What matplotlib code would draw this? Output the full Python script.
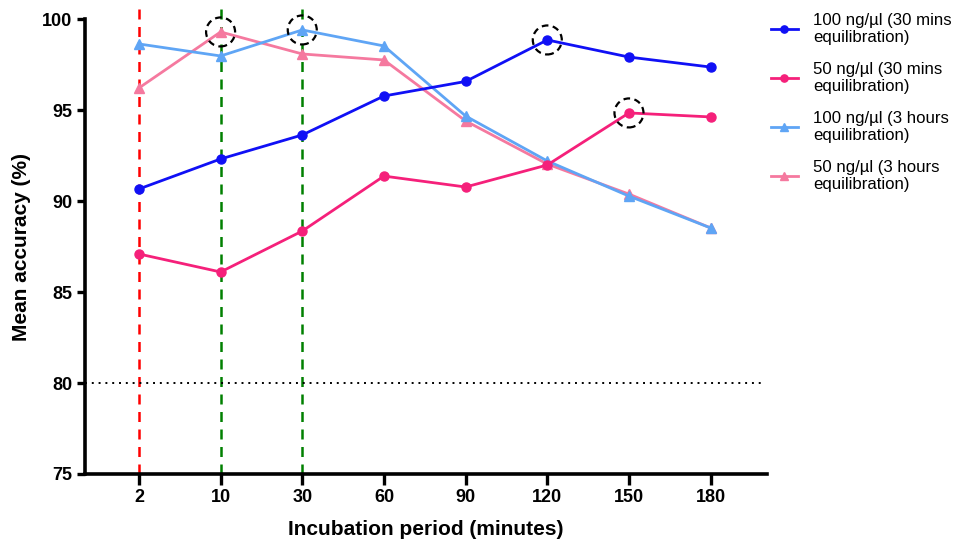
import matplotlib
matplotlib.use("Agg")
import matplotlib.pyplot as plt
from matplotlib.patches import Ellipse

plt.rcParams['font.family'] = ['Liberation Sans', 'DejaVu Sans']

incubation = ['2', '10', '30', '60', '90', '120', '150', '180']
acc_100_30m = [90.66, 92.31, 93.63, 95.77, 96.57, 98.85, 97.91, 97.36]
acc_50_30m = [87.09, 86.10, 88.35, 91.37, 90.77, 91.98, 94.84, 94.62]
acc_100_3h = [98.63, 97.97, 99.40, 98.52, 94.67, 92.20, 90.27, 88.52]
acc_50_3h = [96.21, 99.29, 98.08, 97.75, 94.40, 92.03, 90.38, 88.52]

labels = ['100 ng/µl (30 mins\nequilibration)',
          '50 ng/µl (30 mins\nequilibration)',
          '100 ng/µl (3 hours\nequilibration)',
          '50 ng/µl (3 hours\nequilibration)']
colors = ['#1010f5', '#f5207a', '#5fa5f5', '#f5799f']
markers = ['o', 'o', '^', '^']

# highlighted maxima: (category index, series)
highlights = [(1, acc_50_3h), (2, acc_100_3h), (5, acc_100_30m), (6, acc_50_30m)]

fig = plt.figure(figsize=(9.54, 5.39), dpi=100)
ax = fig.add_axes([0.0891, 0.1206, 0.804 - 0.0891, 0.9647 - 0.1206])

x = list(range(len(incubation)))

# reference lines
ax.axvline(0, ymin=0, ymax=1.025, color='#ff0000', ls=(0, (4, 3)), lw=1.8, clip_on=False, zorder=1)
for xi in (1, 2):
    ax.axvline(xi, ymin=0, ymax=1.025, color='#008000', ls=(0, (4, 3)), lw=1.8, clip_on=False, zorder=1)
ax.plot([-0.66, 7.62], [80, 80], color='black', ls=(0, (1, 2.5)), lw=1.4, zorder=1)

series = [acc_100_30m, acc_50_30m, acc_100_3h, acc_50_3h]
# draw 3-hour series first so 30-min series sit on top
for idx in (3, 2, 1, 0):
    ax.plot(x, series[idx], color=colors[idx], marker=markers[idx], ms=6.5,
            lw=2, label=labels[idx], zorder=3, clip_on=False)

# dashed circles around the peak values
x_per_px = (7.69 + 0.66) / (767 - 85)
y_per_px = 25 / (474 - 19)
r_px = 14.5
for xi, s in highlights:
    e = Ellipse((xi, s[xi]), width=2 * r_px * x_per_px, height=2 * r_px * y_per_px,
                fill=False, ec='black', ls=(0, (3, 2)), lw=1.6, zorder=4, clip_on=False)
    ax.add_patch(e)

ax.set_xlim(-0.66, 7.69)
ax.set_ylim(75, 100)
ax.set_xticks(x)
ax.set_xticklabels(incubation)
ax.set_yticks([75, 80, 85, 90, 95, 100])

for side in ('top', 'right'):
    ax.spines[side].set_visible(False)
for side in ('left', 'bottom'):
    ax.spines[side].set_linewidth(2.6)

ax.tick_params(axis='y', direction='out', length=6, width=2.4, labelsize=13, pad=3)
ax.tick_params(axis='x', direction='out', length=8, width=2.4, labelsize=13, pad=3)
for lab in ax.get_xticklabels() + ax.get_yticklabels():
    lab.set_fontweight('bold')

ax.set_xlabel('Incubation period (minutes)', fontsize=15, fontweight='bold', labelpad=10)
ax.set_ylabel('Mean accuracy (%)', fontsize=15, fontweight='bold', labelpad=8)

handles, labs = ax.get_legend_handles_labels()
order = [3, 2, 1, 0]
leg = fig.legend([handles[i] for i in order], [labs[i] for i in order],
                 loc='upper left', bbox_to_anchor=(771 / 954, 1 - 13 / 539),
                 bbox_transform=fig.transFigure, frameon=False,
                 fontsize=12.1, handlelength=1.6, labelspacing=0.98,
                 handletextpad=0.9, borderpad=0, borderaxespad=0,
                 markerscale=0.8)

fig.savefig('out.png', dpi=100)
